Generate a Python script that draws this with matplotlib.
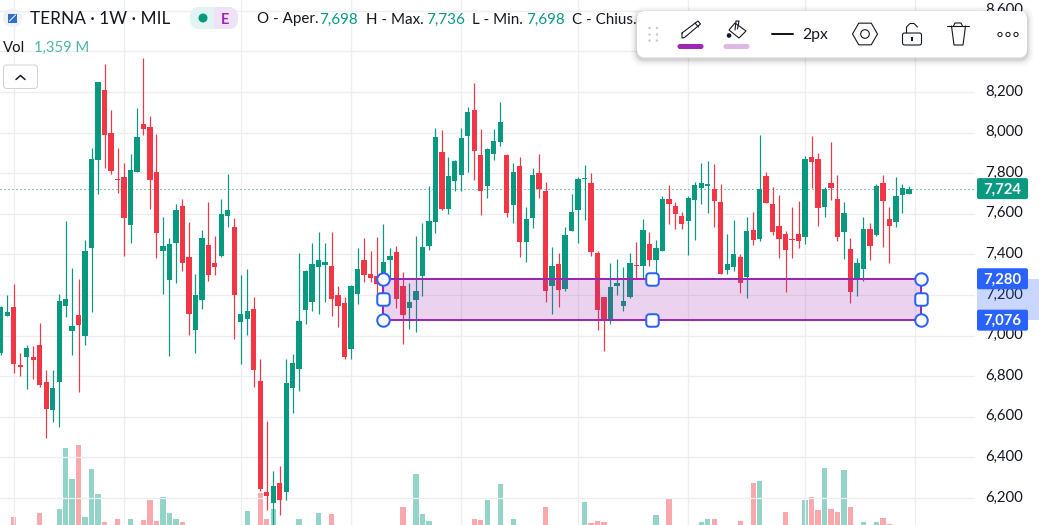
import matplotlib
matplotlib.use("Agg")
import matplotlib.pyplot as plt
from matplotlib.patches import FancyBboxPatch, Rectangle, Circle, Polygon, RegularPolygon
from matplotlib.markers import MarkerStyle
from matplotlib.transforms import ScaledTranslation

plt.rcParams['font.family'] = ['Lato', 'DejaVu Sans']

opens = [6914,7097,7141,6853,6895,6895,6954,6771,6634,6771,
 7146,7023,7101,6998,7432,7865,8210,7998,7771,7781,
 7545,7806,8042,8028,7806,7417,7274,7456,7638,7387,
 7028,7175,7446,7358,7392,7589,7535,7067,7082,7131,
 6776,6229,6175,6274,6229,6742,6835,7126,7166,7338,
 7348,7343,7200,7161,6934,7205,7372,7303,7294,7259,
 7372,7412,7244,7136,7175,7294,7441,7560,7904,7624,
 7762,7791,7983,8111,7890,7737,7895,7954,7890,7643,
 7835,7461,7579,7801,7712,7244,7353,7230,7515,7619,
 7772,7752,7407,7190,7077,7244,7146,7190,7348,7343,
 7451,7372,7417,7673,7638,7589,7565,7668,7727,7737,
 7722,7658,7323,7338,7387,7289,7520,7476,7786,7648,
 7540,7500,7476,7500,7486,7880,7870,7633,7752,7673,
 7510,7427,7284,7328,7525,7496,7752,7574,7560,7693,7698]
highs = [7146,7200,7254,6914,6954,6949,7062,6831,6831,7205,
 7565,7333,7279,7471,7924,8249,8338,8111,7924,7850,
 7895,8121,8367,8082,7993,7584,7481,7648,7673,7560,
 7303,7520,7658,7491,7673,7796,7579,7298,7328,7190,
 6885,6579,6333,6358,6885,6909,7407,7323,7456,7510,
 7456,7510,7244,7190,7249,7432,7481,7417,7486,7550,
 7432,7441,7313,7259,7491,7555,7737,8023,8013,7880,
 7865,8023,8126,8244,8018,7924,8018,8150,7895,7850,
 7880,7633,7826,7895,7757,7436,7407,7535,7698,7781,
 7840,7801,7417,7190,7358,7377,7338,7407,7461,7574,
 7510,7471,7688,7742,7658,7609,7688,7757,7850,7860,
 7845,7747,7500,7570,7402,7584,7609,7988,7806,7732,
 7693,7515,7633,7663,7885,7983,7900,7732,7954,7791,
 7658,7481,7382,7584,7555,7747,7791,7633,7781,7747,7736]
lows = [6904,7097,6816,6801,6737,6786,6747,6496,6574,6550,
 7092,6904,6722,6954,7116,7698,7826,7796,7702,7392,
 7456,7806,7988,7624,7382,7205,6900,7259,7318,7003,
 6914,7131,7269,7298,7387,7535,6983,6860,7003,6747,
 6234,6141,6067,6116,6190,6619,6727,7057,7121,7106,
 7166,7097,7042,6885,6885,7156,7264,7264,7190,7180,
 7274,7136,6959,7033,7018,7195,7422,7505,7619,7599,
 7712,7712,7806,7766,7594,7678,7865,7934,7584,7555,
 7387,7363,7530,7678,7166,7106,7141,7220,7515,7456,
 7569,7392,7028,6924,7057,7200,7121,7185,7279,7279,
 7343,7308,7417,7550,7525,7525,7397,7471,7648,7604,
 7535,7303,7303,7318,7210,7185,7446,7466,7653,7496,
 7382,7215,7382,7432,7451,7727,7540,7584,7668,7466,
 7377,7161,7195,7269,7372,7491,7436,7358,7535,7604,7698]
closes = [7141,7116,6860,6845,6939,6880,6757,6638,6742,7170,
 7180,7047,7052,7417,7870,8249,7988,7811,7766,7579,
 7816,7978,8018,7766,7505,7441,7451,7619,7358,7106,
 7200,7481,7298,7338,7599,7619,7200,7106,7121,6831,
 6244,6210,6259,6190,6767,6865,7072,7318,7353,7372,
 7363,7180,7146,6895,7244,7328,7298,7284,7254,7363,
 7392,7180,7101,7166,7220,7436,7565,7978,7624,7786,
 7860,7973,8101,7909,7712,7919,7959,8052,7604,7806,
 7461,7574,7791,7722,7220,7343,7225,7496,7609,7771,
 7777,7412,7126,7077,7239,7259,7170,7358,7343,7520,
 7372,7432,7673,7648,7599,7550,7678,7742,7752,7747,
 7663,7303,7353,7402,7259,7515,7471,7722,7653,7510,
 7476,7422,7471,7466,7870,7855,7629,7722,7727,7486,
 7604,7215,7358,7525,7441,7737,7663,7540,7688,7727,7724]
volumes = [1.5,1.4,2.12,1.3,1.5,1.6,2.28,1.6,1.7,2.44,
 4.88,3.64,5.0,2.12,4.04,3.04,1.92,1.7,2.04,1.6,
 2.04,1.7,2.0,2.8,1.96,2.92,2.28,2.04,1.92,1.7,
 1.6,1.4,1.6,1.3,1.6,1.4,1.7,1.6,2.36,1.7,
 3.08,2.04,2.44,1.7,1.7,1.6,2.04,1.5,1.6,2.28,
 1.5,2.24,1.6,1.7,1.5,1.6,1.5,1.3,1.4,1.6,
 1.3,1.7,2.52,1.6,3.84,2.24,1.96,1.7,1.7,1.4,
 1.3,1.5,1.5,2.04,2.0,2.8,1.5,3.44,1.7,2.04,
 1.7,1.5,1.6,1.4,2.52,1.6,1.5,1.7,1.4,1.6,
 2.72,1.88,1.96,1.92,1.6,1.3,1.4,1.5,1.2,1.6,
 1.3,2.2,1.6,2.88,1.2,1.2,1.5,1.6,1.92,2.04,
 2.04,1.7,1.3,1.4,1.96,1.6,3.48,3.56,1.6,1.5,
 1.5,2.32,1.2,1.4,2.8,2.92,2.4,4.08,2.44,2.32,
 4.0,2.52,1.6,1.92,1.5,1.92,2.08,1.84,1.5,1.4,1.359]
price_ticks = list(range(6200, 8601, 200))
time_grid_idx = [2, 19, 37, 54, 71, 89, 106, 124, 141]
zone_low, zone_high = 7076, 7280
zone_start_idx, zone_end_idx = 58.93, 141.9
last_price = 7724

GREEN, RED, BLUE, PURPLE = '#089981', '#F23645', '#2962FF', '#9C27B0'
INK = '#131722'
W, H = 1039, 525
PX = 0.72  # points per pixel at dpi 100

fig = plt.figure(figsize=(W/100, H/100), dpi=100, facecolor='white')
plot_w = 975 / W
xlim = (-0.123, 150.2)
ylim = (6067, 8653)

axv = fig.add_axes([0, 0, plot_w, 1], zorder=1, facecolor='white')
axv.set_xlim(xlim); axv.set_ylim(1.8, 22.8); axv.axis('off')
idx = list(range(len(closes)))
up = [c >= o for o, c in zip(opens, closes)]
axv.bar(idx, volumes, width=0.82, color=[GREEN if u else RED for u in up], alpha=0.43, linewidth=0)

ax = fig.add_axes([0, 0, plot_w, 1], zorder=2)
ax.patch.set_visible(False)
ax.set_xlim(xlim); ax.set_ylim(ylim)
for s in ax.spines.values():
    s.set_visible(False)
ax.set_yticks(price_ticks)
ax.set_yticklabels([f"{t:,}" for t in price_ticks], fontsize=10.7, color=INK)
ax.yaxis.tick_right()
ax.tick_params(axis='y', length=0, pad=7.6, direction='in')
up_shift = ScaledTranslation(0, 2/72*PX, fig.dpi_scale_trans)
for lab in ax.get_yticklabels():
    lab.set_transform(lab.get_transform() + up_shift)
ax.set_xticks(time_grid_idx); ax.set_xticklabels([]); ax.tick_params(axis='x', length=0)
ax.grid(True, color='#ECEEF2', linewidth=1.3*PX, zorder=0)
ax.set_axisbelow(True)

colors = [GREEN if u else RED for u in up]
ax.vlines(idx, lows, highs, colors=colors, linewidth=1.2*PX, zorder=3)
ax.bar(idx, [abs(c-o) for o, c in zip(opens, closes)], bottom=[min(o, c) for o, c in zip(opens, closes)],
       width=0.82, color=colors, linewidth=0, zorder=4)

ax.axhline(last_price, color=GREEN, linewidth=1*PX, linestyle=(0, (1, 3)), zorder=2)

# zone rectangle
ax.add_patch(Rectangle((zone_start_idx, zone_low), zone_end_idx-zone_start_idx, zone_high-zone_low,
                       facecolor=PURPLE, alpha=0.2, linewidth=0, zorder=5))
ax.add_patch(Rectangle((zone_start_idx, zone_low), zone_end_idx-zone_start_idx, zone_high-zone_low,
                       facecolor='none', edgecolor=PURPLE, linewidth=2*PX, zorder=6))
zone_mid = (zone_low + zone_high) / 2
x_mid = (zone_start_idx + zone_end_idx) / 2
ax.scatter([zone_start_idx, zone_start_idx, zone_end_idx, zone_end_idx], [zone_low, zone_high, zone_low, zone_high],
           s=(12.5*PX)**2, facecolor='white', edgecolor=BLUE, linewidth=2*PX, zorder=7)
rs = FancyBboxPatch((-.5, -.5), 1, 1, boxstyle="round,pad=0,rounding_size=0.28").get_path()
ax.scatter([zone_start_idx, zone_end_idx, x_mid, x_mid], [zone_mid, zone_mid, zone_low, zone_high],
           marker=MarkerStyle(rs), s=(12.5*PX)**2, facecolor='white', edgecolor=BLUE, linewidth=2*PX, zorder=7)

# overlay chrome in pixel space
ui = fig.add_axes([0, 0, 1, 1], zorder=5)
ui.set_xlim(0, W); ui.set_ylim(H, 0); ui.axis('off'); ui.patch.set_visible(False)

def ypx(p):
    return H * (ylim[1]-p) / (ylim[1]-ylim[0])

def rbox(x0, y0, x1, y1, r, **kw):
    p = FancyBboxPatch((x0, y0), x1-x0, y1-y0, boxstyle=f"round,pad=0,rounding_size={r}", **kw)
    ui.add_patch(p)
    return p

# price tags
ui.add_patch(Rectangle((977, ypx(zone_high)), 62, ypx(zone_low)-ypx(zone_high), facecolor=BLUE, alpha=0.25, linewidth=0))
for price, col in [(last_price, GREEN), (zone_high, BLUE), (zone_low, BLUE)]:
    y = ypx(price)
    rbox(977, y-10.5, 1028, y+10.5, 2, facecolor=col, linewidth=0)
    ui.text(1002.5, y-0.5, f"{price:,}", color='white', fontsize=10.7, fontweight='bold', ha='center', va='center_baseline')

# header
ui.add_patch(Circle((12.5, 18), 9.5, facecolor='#EEF1F8', linewidth=0))
ui.add_patch(Rectangle((8, 13.5), 9, 9, facecolor='#2F6FC8', linewidth=0))
ui.plot([9.5, 15.5], [21, 15], color='white', lw=0.7)
ui.text(30, 18, "TERNA · 1W · MIL", fontsize=12.4, color=INK, va='center_baseline')
rbox(190, 7, 238, 29, 10, facecolor='#E0F4F1', linewidth=0)
ui.add_patch(Rectangle((214, 7), 10, 22, facecolor='#F0E2F6', linewidth=0))
rbox(214, 7, 238, 29, 10, facecolor='#F0E2F6', linewidth=0)
ui.add_patch(Rectangle((214, 7), 10, 22, facecolor='#F0E2F6', linewidth=0))
ui.add_patch(Circle((203, 18), 4.5, facecolor=GREEN, linewidth=0))
ui.text(225, 18, "E", fontsize=10.5, fontweight='bold', color=PURPLE, ha='center', va='center_baseline')
for x, t, c in [(257, "O - Aper.", INK), (319, "7,698", GREEN), (366, "H - Max.", INK), (426, "7,736", GREEN),
                (472, "L - Min.", INK), (526, "7,698", GREEN), (572, "C - Chius.", INK)]:
    ui.text(x, 18, t, fontsize=10.9, color=c, va='center_baseline')
ui.text(3, 46, "Vol", fontsize=10.7, color=INK, va='center_baseline')
ui.text(34, 46, "1,359 M", fontsize=10.7, color='#4DB6A8', va='center_baseline')
rbox(3.5, 65, 37.5, 88.5, 3, facecolor='white', edgecolor='#D1D4DC', linewidth=1*PX)
ui.plot([16, 20.5, 25], [79.5, 75.5, 79.5], color=INK, lw=1.5*PX, solid_capstyle='round')

# toolbar
for g, a in [(7, 0.02), (5, 0.03), (3, 0.05), (1.5, 0.07)]:
    rbox(637-g, 11-g+2, 1027+g, 57.5+g+2, 8+g, facecolor='black', alpha=a, linewidth=0)
rbox(637, 11, 1027, 57.5, 8, facecolor='white', linewidth=0)
for dx in (649.5, 657):
    for dy in (28, 34.5, 40.5):
        ui.add_patch(Circle((dx, dy), 1.2, facecolor='#C4C7CF', linewidth=0))
line = dict(color=INK, lw=1.1*PX, solid_joinstyle='round', solid_capstyle='round')
# pencil
ui.plot([682, 698, 700.5, 684.5, 682, 682], [33, 21, 24, 37.5, 38, 33], **line)
ui.plot([695, 698.5], [23, 27], **line)
rbox(677.5, 44, 703.5, 49, 2.5, facecolor=PURPLE, linewidth=0)
# bucket
ui.add_patch(Polygon([[735, 23], [746, 31], [739, 38], [729, 30]], closed=True, facecolor='white', edgecolor=INK, lw=1.1*PX))
ui.plot([735, 736, 739, 737.5], [30, 21, 21, 29], **line)
ui.add_patch(Circle((729, 35.5), 2.3, facecolor=INK, linewidth=0))
rbox(723.5, 44, 749.5, 49, 2.5, facecolor='#DDB9E6', linewidth=0)
# line width
ui.plot([772, 793], [34, 34], color=INK, lw=2*PX, solid_capstyle='round')
ui.text(802, 34, "2px", fontsize=11.3, color=INK, va='center_baseline')
# settings hexagon
ui.add_patch(RegularPolygon((865, 34), 6, radius=12.5, orientation=0.5236, facecolor='white', edgecolor=INK, lw=1.1*PX))
ui.add_patch(Circle((865, 34), 4.3, facecolor='white', edgecolor=INK, lw=1.1*PX))
# lock
rbox(902.5, 33, 921.5, 45, 2, facecolor='white', edgecolor=INK, linewidth=1.1*PX)
ui.plot([906.5, 906.5, 910, 914, 917.5], [33, 27, 23.5, 23.5, 27], **line)
ui.plot([912, 912], [37.5, 40], color=INK, lw=2*PX)
# trash
ui.plot([947, 969], [26, 26], **line)
ui.plot([951.5, 954, 963, 965.5], [26, 45, 45, 26], **line)
ui.plot([953.5, 955, 961, 962.5], [26, 23, 23, 26], **line)
# more
for cx in (1000, 1008, 1016):
    ui.add_patch(Circle((cx, 34.5), 2.1, facecolor='white', edgecolor=INK, lw=1*PX))

fig.savefig("out.png", dpi=100)
